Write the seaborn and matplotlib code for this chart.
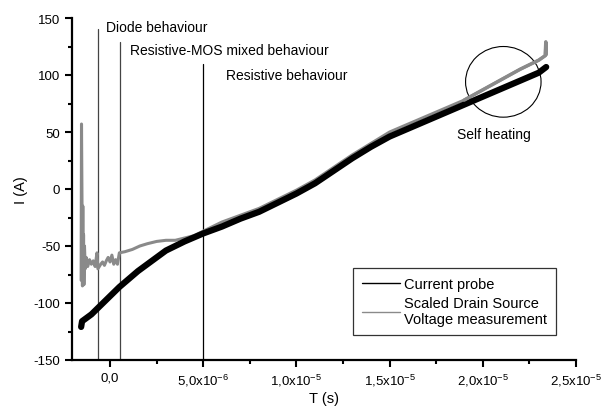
import matplotlib
matplotlib.use("Agg")
import matplotlib.pyplot as plt
import seaborn as sns
import pandas as pd
from matplotlib.patches import Ellipse
from matplotlib.ticker import FixedLocator, FixedFormatter, MultipleLocator

# Time in microseconds, current in A
probe_t = [-1.55, -1.5, -1.0, -0.5, 0.0, 0.5, 1.0, 1.5, 2.0, 2.5, 3.0, 4.0, 5.0,
           6.0, 7.0, 8.0, 9.0, 10.0, 11.0, 12.0, 13.0, 14.0, 15.0, 16.0, 17.0,
           18.0, 19.0, 20.0, 21.0, 22.0, 23.0, 23.4]
probe_i = [-121, -116, -110, -102, -94, -86, -79, -72, -66, -60, -54, -46, -39,
           -33, -26, -20, -12, -4, 5, 16, 27, 37, 46, 53, 60,
           67, 74, 81, 88, 95, 102, 107]

vds_t = [-1.55, -1.53, -1.50, -1.48, -1.46, -1.44, -1.42, -1.40, -1.37, -1.33,
         -1.28, -1.2, -1.1, -1.0, -0.9, -0.8, -0.7, -0.65, -0.5, -0.4, -0.3,
         -0.2, -0.1, 0.0, 0.1, 0.2, 0.3, 0.4, 0.5, 0.8, 1.2, 1.6, 2.0, 2.5,
         3.0, 3.5, 4.0, 4.5, 5.0, 6.0, 7.0, 8.0, 9.0, 10.0, 11.0, 12.0, 13.0,
         14.0, 15.0, 16.0, 17.0, 18.0, 19.0, 20.0, 21.0, 22.0, 23.0, 23.35,
         23.38, 23.4]
vds_i = [-80, 57, -20, -85, -15, -80, -40, -84, -50, -70,
         -60, -68, -62, -66, -63, -68, -56, -70, -66, -64, -67,
         -63, -60, -64, -58, -66, -62, -66, -56, -55, -53, -50, -48, -46,
         -45, -45, -43, -41, -37, -29, -23, -17, -9, -1, 8, 19, 30,
         40, 50, 57, 64, 71, 78, 87, 96, 105, 113, 117,
         129, 118]

# region markers: (time, top of line, colour)
marker_t = [-0.67, 0.51, 4.97]
marker_top = [140, 129, 110]
marker_col = ["#444444", "#444444", "black"]

region_labels = ["Diode behaviour", "Resistive-MOS mixed behaviour", "Resistive behaviour"]
label_t = [-0.2, 1.05, 6.2]
label_i = [142, 122, 100]

xtick_pos = [0, 5, 10, 15, 20, 25]
xtick_lab = ["0,0", r"5,0x10$^{-6}$", r"1,0x10$^{-5}$", r"1,5x10$^{-5}$",
             r"2,0x10$^{-5}$", r"2,5x10$^{-5}$"]

sns.set_style("ticks")
plt.rcParams['font.family'] = ['Liberation Sans', 'DejaVu Sans']
plt.rcParams['mathtext.default'] = 'regular'
plt.rcParams['axes.unicode_minus'] = False
plt.rcParams['axes.edgecolor'] = 'black'
plt.rcParams['xtick.color'] = 'black'
plt.rcParams['ytick.color'] = 'black'
plt.rcParams['text.color'] = 'black'
plt.rcParams['axes.labelcolor'] = 'black'

fig = plt.figure(figsize=(6.07, 4.14), dpi=100)
ax = fig.add_axes([72 / 607, 53 / 414, (576 - 72) / 607, (361 - 19) / 414])

probe = pd.DataFrame({"t": probe_t, "i": probe_i})
vds = pd.DataFrame({"t": vds_t, "i": vds_i})

for t, top, c in zip(marker_t, marker_top, marker_col):
    ax.plot([t, t], [-150, top], color=c, lw=0.9, zorder=1)

sns.lineplot(data=vds, x="t", y="i", ax=ax, color="#8a8a8a", lw=2.2,
             estimator=None, sort=False, label="Scaled Drain Source\nVoltage measurement", zorder=2)
sns.lineplot(data=probe, x="t", y="i", ax=ax, color="black", lw=4.5,
             estimator=None, sort=False, label="Current probe", zorder=3)
# gray trace drawn again on top where it leaves the probe curve
sns.lineplot(data=vds[vds["t"] >= 19.0], x="t", y="i", ax=ax, color="#8a8a8a", lw=2.5,
             estimator=None, sort=False, zorder=4)

for txt, t, i in zip(region_labels, label_t, label_i):
    ax.text(t, i, txt, fontsize=10, va="center", ha="left")

ax.add_patch(Ellipse((21.1, 94), width=4.05, height=62, fill=False, lw=0.8, color="black"))
ax.text(20.6, 48, "Self heating", fontsize=10, ha="center", va="center")

ax.set_xlim(-2.04, 25)
ax.set_ylim(-150, 150)
ax.xaxis.set_major_locator(FixedLocator(xtick_pos))
ax.xaxis.set_major_formatter(FixedFormatter(xtick_lab))
ax.xaxis.set_minor_locator(FixedLocator([2.5, 7.5, 12.5, 17.5, 22.5]))
ax.yaxis.set_major_locator(MultipleLocator(50))
ax.yaxis.set_minor_locator(MultipleLocator(25))
ax.tick_params(which="major", direction="out", length=5, width=1.5, labelsize=9.5)
ax.tick_params(which="minor", direction="out", length=3, width=1.5)
for s in ["left", "bottom"]:
    ax.spines[s].set_linewidth(1.6)
sns.despine(ax=ax)

ax.set_xlabel("T (s)", fontsize=10.5, labelpad=2)
ax.set_ylabel("I (A)", fontsize=10.5, labelpad=4)

handles, labels = ax.get_legend_handles_labels()
order = [labels.index("Current probe"), labels.index("Scaled Drain Source\nVoltage measurement")]
leg = ax.legend([handles[k] for k in order], [labels[k] for k in order],
                loc="lower right", bbox_to_anchor=(0.96, 0.073), borderaxespad=0,
                fontsize=10.5, frameon=True, fancybox=False, edgecolor="black",
                handlelength=2.6, handletextpad=0.3, borderpad=0.6, labelspacing=0.35)
leg.get_frame().set_linewidth(0.9)
for h in leg.get_lines():
    h.set_linewidth(1.0)

fig.savefig("out.png", dpi=100)
